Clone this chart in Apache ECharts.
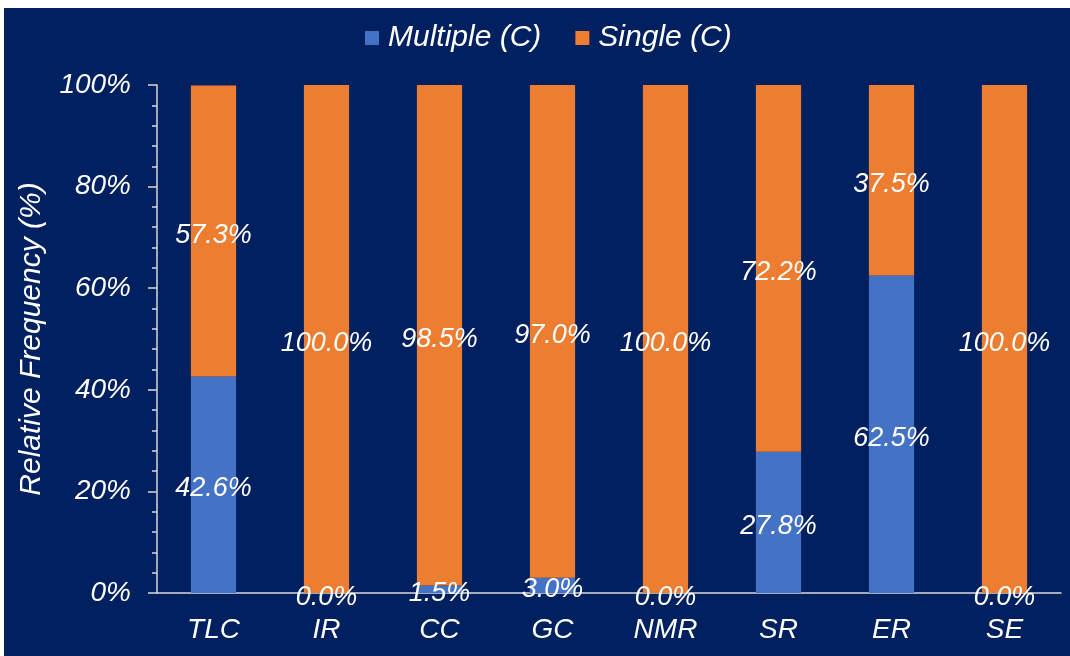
<!DOCTYPE html>
<html>
<head>
<meta charset="utf-8">
<script src="https://cdn.jsdelivr.net/npm/echarts@6/dist/echarts.min.js"></script>
<style>
  html, body { margin: 0; padding: 0; background: #ffffff; }
  #chart { position: absolute; left: 4px; top: 8px; width: 1066px; height: 648px; }
</style>
</head>
<body>
<div id="chart"></div>
<script>
// Techniques compared
const categories = ['TLC', 'IR', 'CC', 'GC', 'NMR', 'SR', 'ER', 'SE'];
// Share of compounds (%) per technique
const multipleC = [42.6, 0.0, 1.5, 3.0, 0.0, 27.8, 62.5, 0.0];
const singleC   = [57.3, 100.0, 98.5, 97.0, 100.0, 72.2, 37.5, 100.0];
const seriesNames = ['Multiple (C)', 'Single (C)'];
const yTicks = [0, 20, 40, 60, 80, 100];

const FONT = '"Liberation Sans", Arial, sans-serif';
const WHITE = '#ffffff';
const AXIS = '#d9d9d9';

const textBase = { color: WHITE, fontFamily: FONT, fontStyle: 'italic' };

const chart = echarts.init(document.getElementById('chart'), null, { renderer: 'canvas' });

const labelFor = {
  show: true,
  position: 'inside',
  offset: [0, 4],
  ...textBase,
  fontSize: 27,
  formatter: p => p.value.toFixed(1) + '%'
};

chart.setOption({
  backgroundColor: '#002060',
  animation: false,
  legend: {
    data: seriesNames,
    top: 10,
    left: 356,
    itemWidth: 14,
    itemHeight: 14,
    itemGap: 34,
    icon: 'rect',
    textStyle: { ...textBase, fontSize: 30, padding: [0, 0, 0, 4] }
  },
  grid: { left: 153, right: 9, top: 77, bottom: 63, containLabel: false },
  xAxis: {
    type: 'category',
    data: categories,
    axisLine: { lineStyle: { color: AXIS, width: 1.5 } },
    axisTick: { alignWithLabel: true, length: 7, lineStyle: { color: AXIS, width: 1.5 } },
    axisLabel: { ...textBase, fontSize: 28, margin: 23 }
  },
  yAxis: {
    type: 'value',
    min: yTicks[0],
    max: yTicks[yTicks.length - 1],
    interval: 20,
    name: 'Relative Frequency (%)',
    nameLocation: 'middle',
    nameGap: 110,
    nameTextStyle: { ...textBase, fontSize: 30 },
    splitLine: { show: false },
    axisLine: { show: true, lineStyle: { color: AXIS, width: 1.5 } },
    axisTick: { show: true, length: 9, lineStyle: { color: AXIS, width: 1.5 } },
    minorTick: { show: true, splitNumber: 5, length: 5, lineStyle: { color: AXIS, width: 1.5 } },
    axisLabel: { ...textBase, fontSize: 28, margin: 26, padding: [3, 0, 0, 0], formatter: v => v + '%' }
  },
  series: [
    {
      name: seriesNames[0],
      type: 'bar',
      stack: 'total',
      barWidth: '40%',
      itemStyle: { color: '#4472c4' },
      label: labelFor,
      data: multipleC
    },
    {
      name: seriesNames[1],
      type: 'bar',
      stack: 'total',
      barWidth: '40%',
      itemStyle: { color: '#ed7d31' },
      label: labelFor,
      data: singleC
    }
  ]
});
</script>
</body>
</html>
